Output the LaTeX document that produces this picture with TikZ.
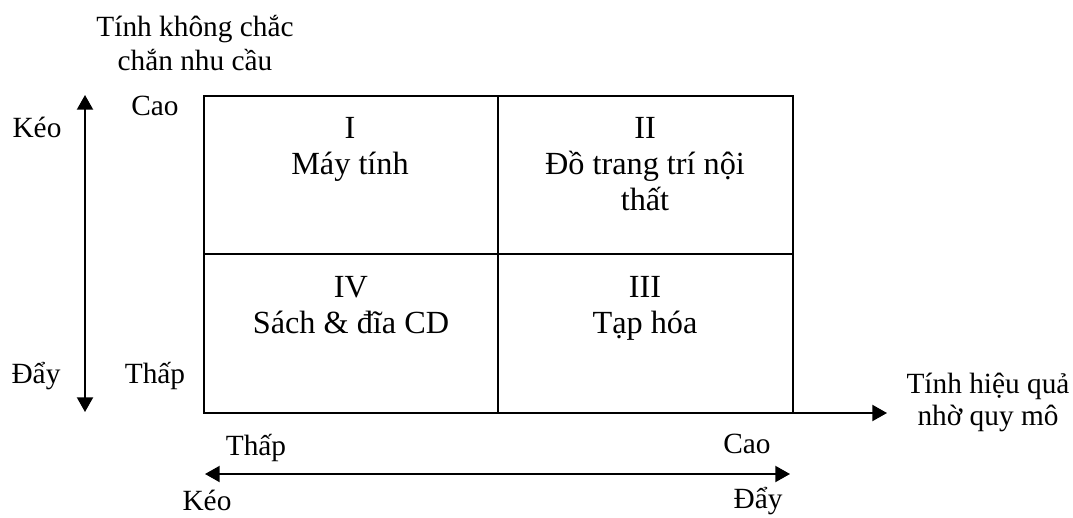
\documentclass[tikz,border=0pt]{standalone}
\usepackage{fontspec}
\setmainfont{Liberation Serif}
\usetikzlibrary{arrows.meta}
\begin{document}
\begin{tikzpicture}[x=0.75pt,y=-0.75pt,
  % multi-line nodes are placed by the baseline of their last line
  quad/.style={inner sep=0pt, anchor=base, align=center,
               font=\fontsize{24.2}{27}\selectfont},
  lbl/.style={inner sep=0pt, anchor=base, align=center,
              font=\fontsize{22}{24.5}\selectfont},
  frame/.style={line width=1.5pt, draw=black},
  axis/.style={line width=1.5pt, -{Triangle[length=11pt,width=12pt]}},
  biaxis/.style={line width=1.5pt,
                 {Triangle[length=11pt,width=12pt]}-{Triangle[length=11pt,width=12pt]}}]
\useasboundingbox (0,0) rectangle (1073,517);

% matrix frame and its four quadrants
\coordinate (tl) at (204,96);
\coordinate (tr) at (793,96);
\coordinate (bl) at (204,413);
\coordinate (br) at (793,413);
\coordinate (mt) at (498,96);
\coordinate (mb) at (498,413);
\coordinate (ml) at (204,254);
\coordinate (mr) at (793,254);
\draw[frame] (tl) rectangle (br);
\draw[frame] (mt) -- (mb);
\draw[frame] (ml) -- (mr);

% quadrant labels
\node[quad] (q1) at (350,174) {I\\Máy tính};
\node[quad] (q2) at (645,210) {II\\Đồ trang trí nội\\thất};
\node[quad] (q4) at (351,333) {IV\\Sách \& đĩa CD};
\node[quad] (q3) at (645,333) {III\\Tạp hóa};

% vertical axis: demand uncertainty
\node[lbl, font=\fontsize{22}{24.75}\selectfont] (ytitle) at (195,70) {Tính không chắc\\chắn nhu cầu};
\node[lbl] (yhigh) at (155,115) {Cao};
\node[lbl] (ylow) at (155,383) {Thấp};
\node[lbl] (ypull) at (37,137) {Kéo};
\node[lbl] (ypush) at (36,383) {Đẩy};
\coordinate (vtop) at (85,95);
\coordinate (vbot) at (85,412);
\draw[biaxis] (vtop) -- (vbot);

% horizontal axis: economies of scale
\coordinate (xend) at (887,413);
\draw[axis] (bl) -- (xend);
\node[lbl, font=\fontsize{22}{24}\selectfont] (xtitle) at (988,425) {Tính hiệu quả\\nhờ quy mô};
\node[lbl] (xlow) at (256,455) {Thấp};
\node[lbl] (xhigh) at (747,453) {Cao};

% pull / push scale under the matrix
\coordinate (hleft) at (205,474);
\coordinate (hright) at (790,474);
\draw[biaxis] (hleft) -- (hright);
\node[lbl] (xpull) at (207,510) {Kéo};
\node[lbl] (xpush) at (758,508) {Đẩy};
\end{tikzpicture}
\end{document}
